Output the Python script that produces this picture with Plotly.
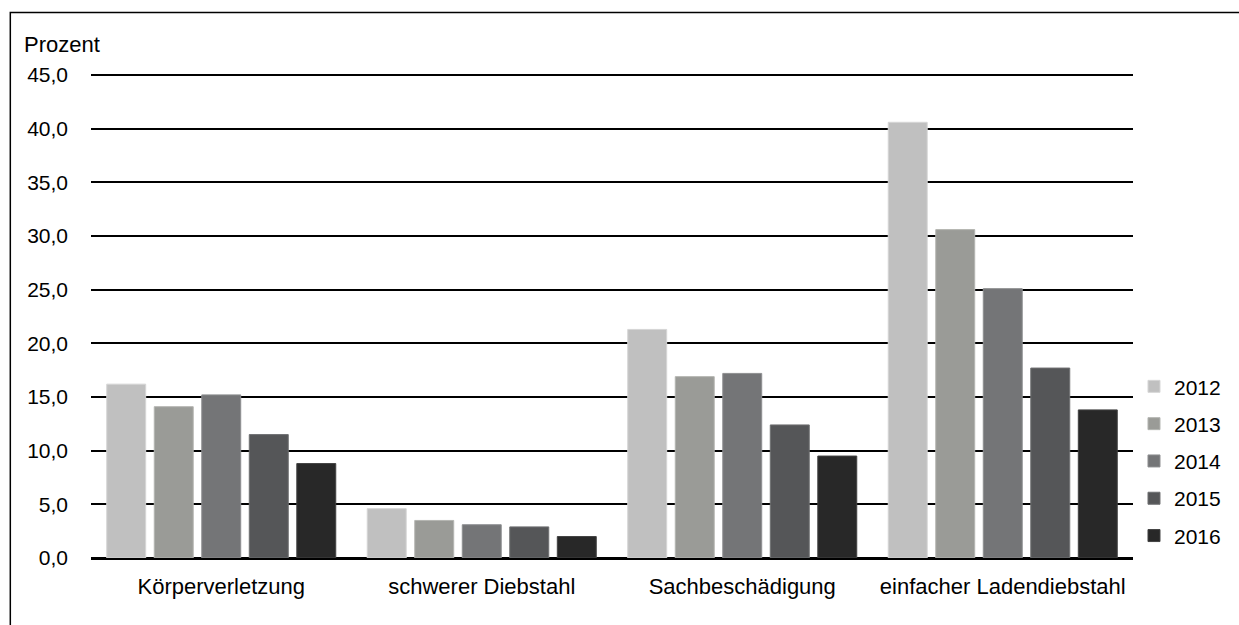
import plotly.graph_objects as go

# Delikte (Anteile in Prozent) nach Jahr
kategorien = ["Körperverletzung", "schwerer Diebstahl", "Sachbeschädigung", "einfacher Ladendiebstahl"]
jahre = ["2012", "2013", "2014", "2015", "2016"]
werte_2012 = [16.2, 4.6, 21.3, 40.6]
werte_2013 = [14.1, 3.5, 16.9, 30.6]
werte_2014 = [15.2, 3.1, 17.2, 25.1]
werte_2015 = [11.5, 2.9, 12.4, 17.7]
werte_2016 = [8.8, 2.0, 9.5, 13.8]
y_ticks = [0, 5, 10, 15, 20, 25, 30, 35, 40, 45]

serien = [werte_2012, werte_2013, werte_2014, werte_2015, werte_2016]
farben = ["#C0C0C0", "#9A9B97", "#747577", "#555658", "#282828"]
kanten = ["#D6D6D6", "#B4B5B1", "#8E8F91", "#6F7072", "#424242"]

W, H = 1239, 625
ML, MR, MT, MB = 91, 102, 74, 66.5
PW, PH = W - ML - MR, H - MT - MB


def px_x(px):
    return (px - ML) / PW


def px_y(py):
    return (H - MB - py) / PH


FONT = "Liberation Sans, Arial, sans-serif"

fig = go.Figure()
for jahr, werte, farbe, kante in zip(jahre, serien, farben, kanten):
    fig.add_trace(go.Bar(
        x=kategorien, y=werte, name=jahr, legendgroup=jahr,
        marker=dict(color=farbe, line=dict(color=kante, width=1)),
    ))

fig.update_layout(
    width=W, height=H,
    margin=dict(l=ML, r=MR, t=MT, b=MB, pad=0),
    paper_bgcolor="white", plot_bgcolor="white",
    barmode="group", bargap=0.088, bargroupgap=0.18,
    separators=",.",
    font=dict(family=FONT, size=21, color="black"),
    showlegend=True,
    legend=dict(
        x=px_x(1138), xanchor="left",
        y=px_y(366.5), yanchor="top",
        traceorder="grouped", tracegroupgap=7,
        font=dict(family=FONT, size=21, color="black"),
        bgcolor="rgba(0,0,0,0)", borderwidth=0,
    ),
    xaxis=dict(
        showgrid=False, showline=False, ticks="", zeroline=False,
        ticklabelstandoff=13,
        tickfont=dict(family=FONT, size=22, color="black"),
    ),
    yaxis=dict(
        range=[0, 45.1], tickvals=y_ticks, tickformat=".1f",
        showgrid=True, gridcolor="black", gridwidth=1.5,
        zeroline=True, zerolinecolor="black", zerolinewidth=2.5,
        showline=False, ticks="", ticklabelstandoff=22,
        tickfont=dict(family=FONT, size=21, color="black"),
    ),
    annotations=[dict(
        text="Prozent", xref="paper", yref="paper",
        x=px_x(22), y=px_y(44), xanchor="left", yanchor="middle",
        showarrow=False, font=dict(family=FONT, size=22, color="black"),
    )],
    shapes=[dict(
        type="rect", xref="paper", yref="paper",
        x0=px_x(10), x1=px_x(W + 10), y0=px_y(H + 10), y1=px_y(12.5),
        line=dict(color="black", width=1.5), fillcolor="rgba(0,0,0,0)",
        layer="above",
    )],
)

fig.write_html("out.html")
